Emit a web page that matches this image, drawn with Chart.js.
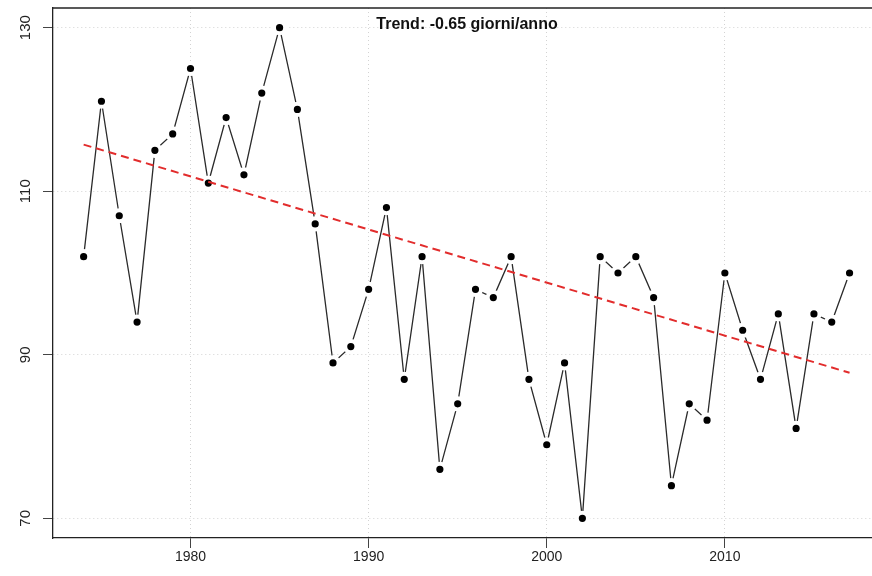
<!DOCTYPE html>
<html>
<head>
<meta charset="utf-8">
<script src="https://cdn.jsdelivr.net/npm/chart.js@4"></script>
<style>
  html, body { margin: 0; padding: 0; background: #fff; overflow: hidden; }
</style>
</head>
<body>
<canvas id="trendChart" width="872" height="576"></canvas>
<script>
// anni e giorni
const anni = [1974, 1975, 1976, 1977, 1978, 1979, 1980, 1981, 1982, 1983, 1984, 1985, 1986, 1987,
              1988, 1989, 1990, 1991, 1992, 1993, 1994, 1995, 1996, 1997, 1998, 1999, 2000, 2001,
              2002, 2003, 2004, 2005, 2006, 2007, 2008, 2009, 2010, 2011, 2012, 2013, 2014, 2015, 2016, 2017];
const giorni = [102, 121, 107, 94, 115, 117, 125, 111, 119, 112, 122, 130, 120, 106,
                89, 91, 98, 108, 87, 102, 76, 84, 98, 97, 102, 87, 79, 89,
                70, 102, 100, 102, 97, 74, 84, 82, 100, 93, 87, 95, 81, 95, 94, 100];

// linea di tendenza (estremi)
const trendAnni = [1974, 2017];
const trendValori = [115.7, 87.8];

const xTicks = [1980, 1990, 2000, 2010];
const yTicks = [70, 90, 110, 130];
const titolo = 'Trend: -0.65 giorni/anno';

const font = '"Liberation Sans", Arial, sans-serif';

// cornice superiore e testo del trend (il lato destro esce dall'immagine)
const boxPlugin = {
    id: 'boxPlugin',
    afterDraw(chart) {
        const { ctx, chartArea } = chart;
        ctx.save();
        ctx.strokeStyle = '#222';
        ctx.lineWidth = 1.3;
        ctx.beginPath();
        ctx.moveTo(chartArea.left, chartArea.top);
        ctx.lineTo(chartArea.right, chartArea.top);
        ctx.stroke();
        ctx.fillStyle = '#111';
        ctx.font = 'bold 16px ' + font;
        ctx.textAlign = 'center';
        ctx.textBaseline = 'alphabetic';
        ctx.fillText(titolo, 467, chartArea.top + 21);
        ctx.restore();
    }
};

const noPad = (scale) => {
    scale.paddingTop = 0;
    scale.paddingBottom = 0;
    scale.paddingLeft = 0;
    scale.paddingRight = 0;
};

const ctx = document.getElementById('trendChart').getContext('2d');

new Chart(ctx, {
    type: 'line',
    data: {
        datasets: [
            {
                // tendenza sopra alla serie
                data: trendAnni.map((a, i) => ({ x: a, y: trendValori[i] })),
                borderColor: 'rgb(226, 44, 44)',
                borderWidth: 2,
                borderDash: [8, 5],
                pointRadius: 0,
                fill: false
            },
            {
                data: anni.map((a, i) => ({ x: a, y: giorni[i] })),
                borderColor: '#2a2a2a',
                borderWidth: 1.3,
                pointRadius: 5.6,
                pointBorderWidth: 4,
                pointBackgroundColor: '#000',
                pointBorderColor: '#fff',
                tension: 0,
                fill: false
            }
        ]
    },
    options: {
        responsive: false,
        animation: false,
        layout: { autoPadding: false, padding: { top: 8, left: 0, right: 0, bottom: 0 } },
        plugins: {
            legend: { display: false },
            tooltip: { enabled: false }
        },
        scales: {
            x: {
                type: 'linear',
                min: 1972.28,
                max: 2018.26,
                afterBuildTicks: (scale) => { scale.ticks = xTicks.map(v => ({ value: v })); },
                afterFit: (scale) => { scale.height = 38; noPad(scale); },
                grid: {
                    color: '#d3d3d3',
                    lineWidth: 1,
                    tickLength: 10,
                    tickColor: '#444',
                    tickWidth: 1
                },
                border: { display: true, color: '#222', width: 1.3, dash: [1, 3] },
                ticks: {
                    font: { family: font, size: 14 },
                    color: '#222',
                    padding: 1,
                    maxRotation: 0,
                    minRotation: 0,
                    callback: (v) => String(v)
                }
            },
            y: {
                min: 67.6,
                max: 132.4,
                afterBuildTicks: (scale) => { scale.ticks = yTicks.map(v => ({ value: v })); },
                afterFit: (scale) => { scale.width = 53; noPad(scale); },
                grid: {
                    color: '#d3d3d3',
                    lineWidth: 1,
                    tickLength: 10,
                    tickColor: '#444',
                    tickWidth: 1
                },
                border: { display: true, color: '#222', width: 1.3, dash: [1, 3] },
                ticks: {
                    font: { family: font, size: 15 },
                    color: '#222',
                    padding: 5,
                    minRotation: 90,
                    maxRotation: 90,
                    crossAlign: 'center',
                    callback: (v) => String(v)
                }
            }
        }
    },
    plugins: [boxPlugin]
});
</script>
</body>
</html>
